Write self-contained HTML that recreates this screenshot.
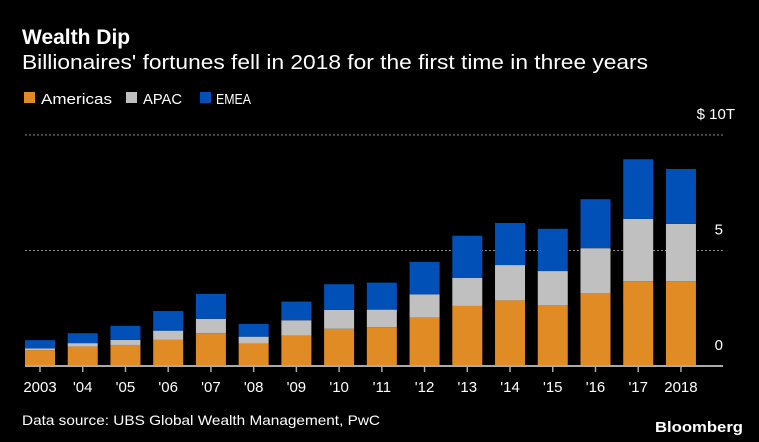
<!DOCTYPE html>
<html><head><meta charset="utf-8"><style>
html,body{margin:0;padding:0;background:#000;}
svg{display:block;font-family:"Liberation Sans",sans-serif;}
</style></head><body>
<svg id="chart" width="759" height="442" viewBox="0 0 759 442" xmlns="http://www.w3.org/2000/svg">
<rect width="759" height="442" fill="#000"/>
<text x="22" y="44" fill="#fff" font-size="21" font-weight="bold">Wealth Dip</text>
<text x="22" y="69" fill="#fff" font-size="20" textLength="626" lengthAdjust="spacingAndGlyphs">Billionaires' fortunes fell in 2018 for the first time in three years</text>
<g>
<rect x="24" y="92" width="11" height="11" fill="#e08b24"/>
<text x="41" y="104" fill="#fff" font-size="15" textLength="71" lengthAdjust="spacingAndGlyphs">Americas</text>
<rect x="126" y="92" width="11" height="11" fill="#c0c0c0"/>
<text x="143" y="104" fill="#fff" font-size="15" textLength="39" lengthAdjust="spacingAndGlyphs">APAC</text>
<rect x="200" y="92" width="11" height="11" fill="#0050b8"/>
<text x="216" y="104" fill="#fff" font-size="15" textLength="35" lengthAdjust="spacingAndGlyphs">EMEA</text>
</g>
<g id="grid"></g>
<g id="bars"></g>
<g id="axis"></g>
<text x="22" y="425" fill="#fff" font-size="14" textLength="358" lengthAdjust="spacingAndGlyphs">Data source: UBS Global Wealth Management, PwC</text>
<text x="743" y="432" fill="#fff" font-size="15" font-weight="bold" text-anchor="end" textLength="88" lengthAdjust="spacingAndGlyphs">Bloomberg</text>
</svg>
<script>
const categories = ["2003","'04","'05","'06","'07","'08","'09","'10","'11","'12","'13","'14","'15","'16","'17","2018"];
const americas = [0.69,0.84,0.91,1.13,1.42,0.97,1.31,1.61,1.68,2.09,2.60,2.84,2.64,3.16,3.67,3.67];
const apac = [0.07,0.15,0.22,0.40,0.62,0.30,0.67,0.82,0.76,1.01,1.21,1.53,1.47,1.94,2.70,2.48];
const emea = [0.36,0.43,0.61,0.85,1.08,0.55,0.81,1.11,1.17,1.41,1.83,1.82,1.83,2.12,2.58,2.38];
const yTicks = [0,5,10];
const yTickLabels = ["0","5","$ 10T"];

const NS = "http://www.w3.org/2000/svg";
const baseY = 366, pxPerUnit = 23.1;
const x0 = 25, pitch = 42.73, barW = 30;
function yScale(v){ return baseY - v*pxPerUnit; }
function xScale(i){ return x0 + i*pitch; }
function mk(tag, attrs, parent){ const e=document.createElementNS(NS,tag); for(const k in attrs) e.setAttribute(k,attrs[k]); parent.appendChild(e); return e; }

const grid=document.getElementById('grid'), bars=document.getElementById('bars'), axis=document.getElementById('axis');
yTicks.forEach((t,i)=>{
  if(t>0){
    const l=mk('line',{x1:25,x2:723,y1:yScale(t),y2:yScale(t),stroke:'#888','stroke-width':1,'stroke-dasharray':'2,2'},grid);
    
    
  }
  const tx=mk('text',{x:t===10?735:723,y:yScale(t)-16,fill:'#fff','font-size':15,'text-anchor':'end'},axis);
  tx.textContent=yTickLabels[i];
  
  
});
const series=[[americas,'#e08b24','americas'],[apac,'#c0c0c0','apac'],[emea,'#0050b8','emea']];
categories.forEach((c,i)=>{
  let cum=0;
  series.forEach(([arr,col,nm])=>{
    const v=arr[i];
    const r=mk('rect',{x:xScale(i),y:yScale(cum+v),width:barW,height:v*pxPerUnit,fill:col},bars);
    
    
    cum+=v;
  });
  const tk=mk('line',{x1:xScale(i)+barW/2,x2:xScale(i)+barW/2,y1:baseY,y2:baseY+6,stroke:'#aaa','stroke-width':1.5},axis);
  
  
  const lb=mk('text',{x:xScale(i)+barW/2,y:392,fill:'#fff','font-size':15,'text-anchor':'middle'},axis);
  lb.textContent=c;
  
  
});
const ax=mk('line',{x1:25,x2:723,y1:baseY,y2:baseY,stroke:'#aaa','stroke-width':2},axis);


</script>
</body></html>
